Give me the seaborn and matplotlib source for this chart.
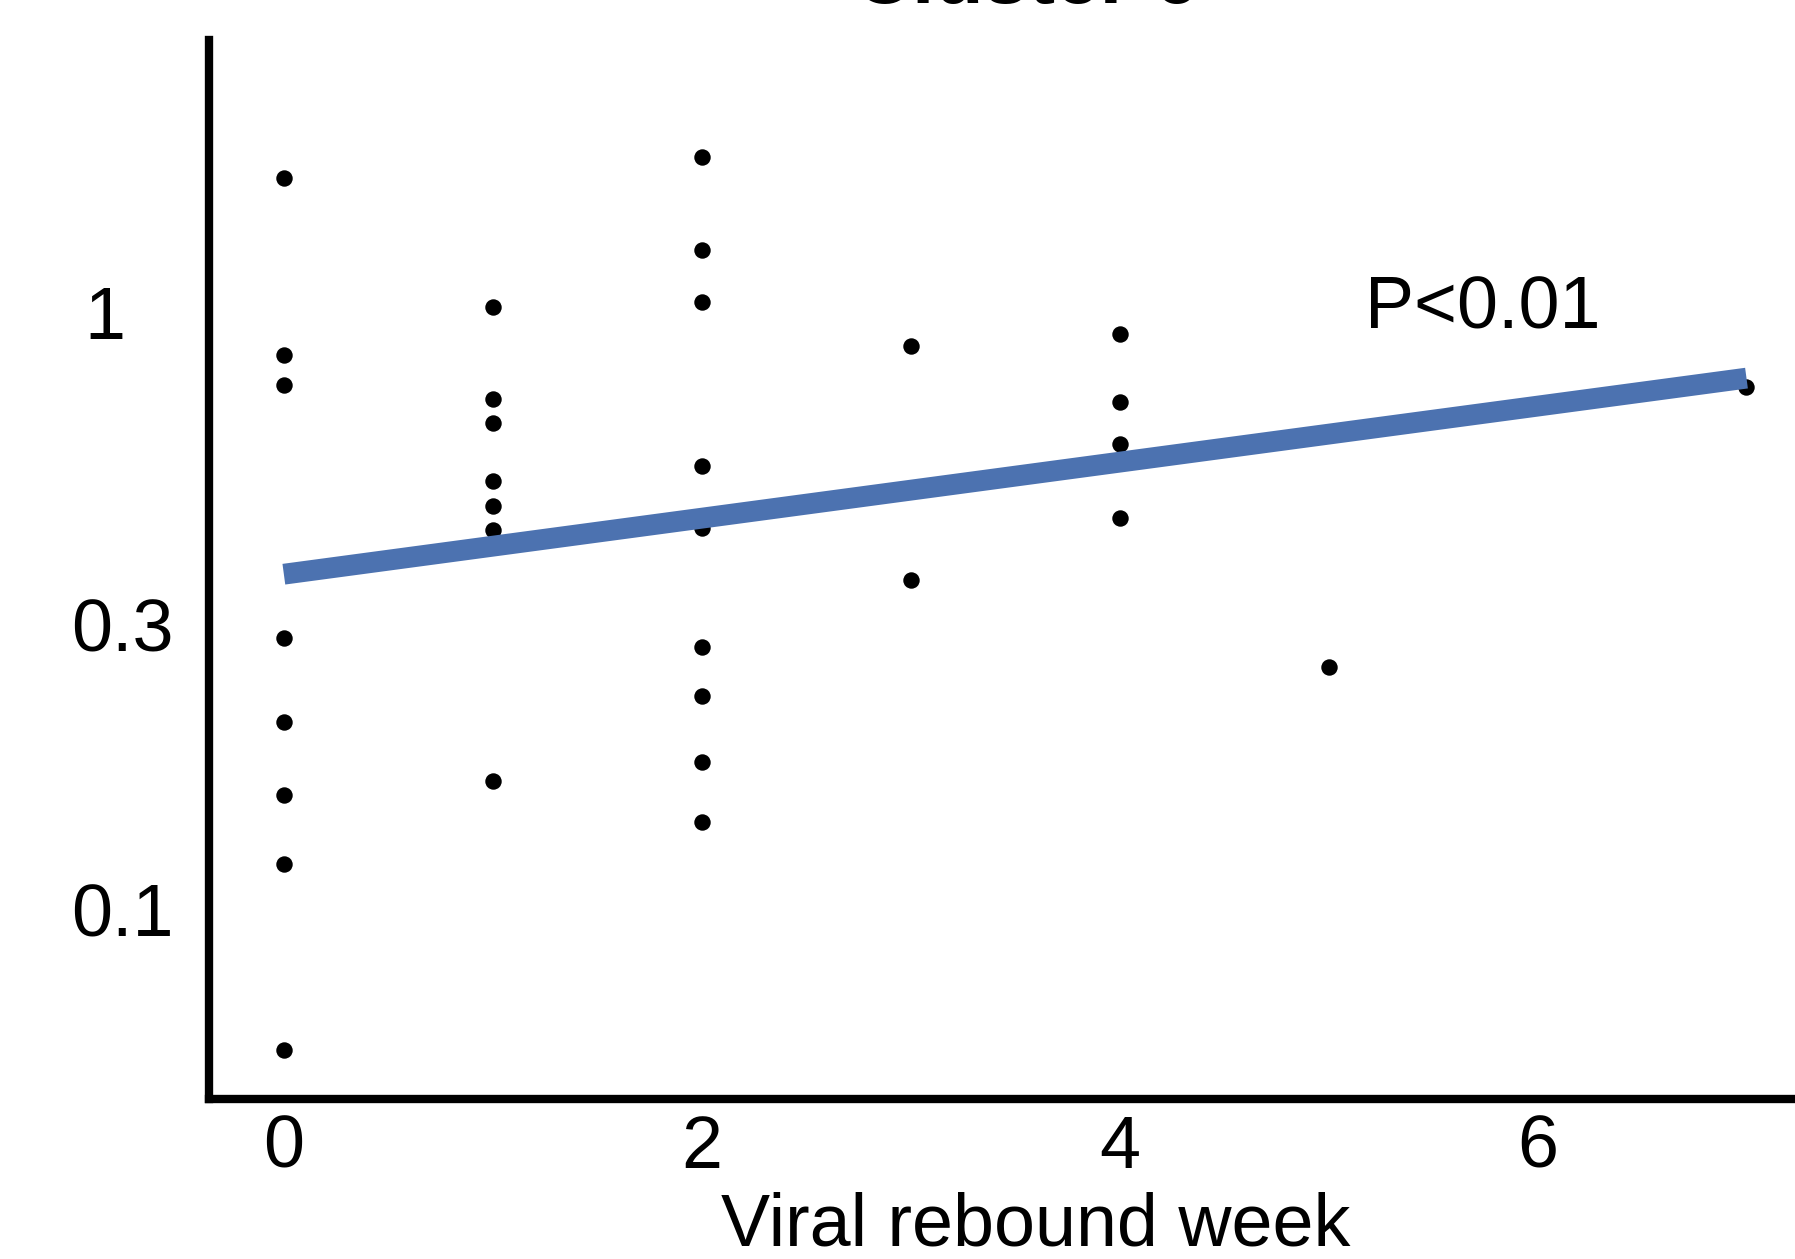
import numpy as np
import pandas as pd
import matplotlib
matplotlib.use("Agg")
import matplotlib.pyplot as plt
from matplotlib.transforms import ScaledTranslation
import seaborn as sns

# ---- data ----
week = [0, 0, 0, 0, 0, 0, 0, 0,
        1, 1, 1, 1, 1, 1, 1,
        2, 2, 2, 2, 2, 2, 2, 2, 2,
        3, 3,
        4, 4, 4, 4,
        5,
        7]
value = [1.675, 0.846, 0.754, 0.284, 0.206, 0.155, 0.119, 0.058,
         1.018, 0.715, 0.652, 0.521, 0.472, 0.431, 0.164,
         1.814, 1.269, 1.036, 0.551, 0.435, 0.275, 0.227, 0.176, 0.140,
         0.876, 0.355,
         0.916, 0.706, 0.600, 0.452,
         0.254,
         0.747]
ytick_values = [0.1, 0.3, 1]
ytick_labels = ["0.1", "0.3", "1"]
xticks = [0, 2, 4, 6]
xlabel = "Viral rebound week"
title = "Cluster 6"
annotation = "P<0.01"

df = pd.DataFrame({"week": week, "logv": np.log10(value)})

sns.set_style("white")
plt.rcParams["font.family"] = ["Liberation Sans", "DejaVu Sans"]
plt.rcParams["text.color"] = "black"
plt.rcParams["axes.labelcolor"] = "black"
plt.rcParams["xtick.labelcolor"] = "black"
plt.rcParams["ytick.labelcolor"] = "black"

fig = plt.figure(figsize=(17.95, 12.59), dpi=100)
ax = fig.add_axes([0.1167, 0.127, 1.037 - 0.1167, 0.968 - 0.127])

sns.regplot(data=df, x="week", y="logv", ax=ax, ci=None,
            scatter_kws=dict(s=140, color="black", linewidths=0, alpha=1),
            line_kws=dict(color="#4C72B0", lw=15, solid_capstyle="butt"))

ax.set_xlim(-0.356, 7.55)
ax.set_ylim(-1.318, 0.454)
ax.set_xticks(xticks)
ax.set_yticks(np.log10(ytick_values))
ax.set_yticklabels(ytick_labels)
ax.set_xlabel(xlabel, fontsize=53, labelpad=6)
ax.set_ylabel("")

for side in ["top", "right"]:
    ax.spines[side].set_visible(False)
for side in ["left", "bottom"]:
    ax.spines[side].set_linewidth(6)
    ax.spines[side].set_color("black")

ax.tick_params(axis="both", labelsize=53, length=3, width=4, color="#555555",
               labelcolor="black", direction="inout", left=True, bottom=True)
ax.tick_params(axis="y", pad=24)
ax.tick_params(axis="x", pad=9)

# the "1" label sits further left in the reference
for lab in ax.get_yticklabels():
    if lab.get_text() == "1":
        lab.set_transform(lab.get_transform() + ScaledTranslation(-0.49, 0, fig.dpi_scale_trans))

ax.text(5.175, np.log10(0.938), annotation, fontsize=53, ha="left", va="baseline",
        color="black")

fig.text(0.5716, 0.9975, title, fontsize=58, fontweight="bold", ha="center",
         va="baseline", color="black")

fig.savefig("out.png", dpi=100)
